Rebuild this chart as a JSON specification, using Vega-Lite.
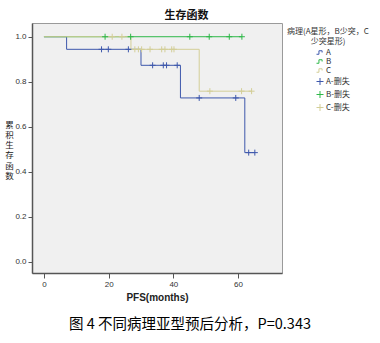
{
  "$schema": "https://vega.github.io/schema/vega-lite/v6.json",
  "width": 250,
  "height": 250,
  "autosize": {"type": "none"},
  "padding": {"left": 32, "top": 23, "right": 98, "bottom": 70},
  "background": "white",
  "title": {
    "text": "图 4 不同病理亚型预后分析，P=0.343",
    "orient": "bottom",
    "anchor": "middle",
    "frame": "group",
    "dx": 33,
    "offset": 16,
    "font": "Noto Sans CJK SC",
    "fontSize": 14.5,
    "fontWeight": "normal",
    "color": "#000000"
  },
  "datasets": {
    "steps": [
      {"group": "A", "months": 0, "survival": 1},
      {"group": "A", "months": 7, "survival": 0.944},
      {"group": "A", "months": 30, "survival": 0.873},
      {"group": "A", "months": 42.2, "survival": 0.728},
      {"group": "A", "months": 62.1, "survival": 0.485},
      {"group": "A", "months": 65.2, "survival": 0.485},
      {"group": "B", "months": 0, "survival": 1},
      {"group": "B", "months": 61.2, "survival": 1},
      {"group": "C", "months": 0, "survival": 1},
      {"group": "C", "months": 26.9, "survival": 0.944},
      {"group": "C", "months": 48, "survival": 0.758},
      {"group": "C", "months": 64.2, "survival": 0.758}
    ],
    "censored": [
      {"group": "A-删失", "months": 17.8, "survival": 0.944},
      {"group": "A-删失", "months": 19.9, "survival": 0.944},
      {"group": "A-删失", "months": 26.1, "survival": 0.944},
      {"group": "A-删失", "months": 33.6, "survival": 0.873},
      {"group": "A-删失", "months": 36.9, "survival": 0.873},
      {"group": "A-删失", "months": 37.9, "survival": 0.873},
      {"group": "A-删失", "months": 41.2, "survival": 0.873},
      {"group": "A-删失", "months": 48, "survival": 0.728},
      {"group": "A-删失", "months": 59.3, "survival": 0.728},
      {"group": "A-删失", "months": 63.3, "survival": 0.485},
      {"group": "A-删失", "months": 65.2, "survival": 0.485},
      {"group": "B-删失", "months": 18.9, "survival": 1},
      {"group": "B-删失", "months": 26.8, "survival": 1},
      {"group": "B-删失", "months": 45.1, "survival": 1},
      {"group": "B-删失", "months": 51.1, "survival": 1},
      {"group": "B-删失", "months": 57.3, "survival": 1},
      {"group": "B-删失", "months": 61.2, "survival": 1},
      {"group": "C-删失", "months": 21.1, "survival": 1},
      {"group": "C-删失", "months": 24.1, "survival": 1},
      {"group": "C-删失", "months": 28.1, "survival": 0.944},
      {"group": "C-删失", "months": 29.2, "survival": 0.944},
      {"group": "C-删失", "months": 30.2, "survival": 0.944},
      {"group": "C-删失", "months": 32.8, "survival": 0.944},
      {"group": "C-删失", "months": 36.4, "survival": 0.944},
      {"group": "C-删失", "months": 37.4, "survival": 0.944},
      {"group": "C-删失", "months": 39.5, "survival": 0.944},
      {"group": "C-删失", "months": 40.2, "survival": 0.944},
      {"group": "C-删失", "months": 51.3, "survival": 0.758},
      {"group": "C-删失", "months": 61.1, "survival": 0.758},
      {"group": "C-删失", "months": 64.2, "survival": 0.758}
    ]
  },
  "encoding": {
    "y": {
      "field": "survival",
      "type": "quantitative",
      "scale": {"domain": [-0.05, 1.061], "nice": false, "zero": false},
      "axis": {
        "values": [0, 0.2, 0.4, 0.6, 0.8, 1.0],
        "format": ".1f",
        "tickSize": 4,
        "labelPadding": 2,
        "title": ["累", "积", "生", "存", "函", "数"],
        "titleAngle": 0,
        "titleX": -23,
        "titleY": 101,
        "titleAlign": "center",
        "titleBaseline": "middle",
        "titleFont": "Noto Sans CJK SC",
        "titleFontSize": 8.5,
        "titleFontWeight": "normal",
        "titleLineHeight": 10.3
      }
    },
    "color": {
      "field": "group",
      "type": "nominal",
      "scale": {
        "domain": ["A", "B", "C", "A-删失", "B-删失", "C-删失"],
        "range": ["#3E58AC", "#2EB848", "#D3CE97", "#3E58AC", "#2EB848", "#D3CE97"]
      },
      "legend": {
        "orient": "none",
        "legendX": 255,
        "legendY": 5,
        "title": ["病理(A星形，B少突，C", "少突星形)"],
        "titleFont": "Noto Sans CJK SC",
        "titleFontSize": 8,
        "titleFontWeight": "normal",
        "titleColor": "#333333",
        "titleAlign": "center",
        "titleAnchor": "middle",
        "titleLineHeight": 9.5,
        "titlePadding": 3,
        "symbolOffset": 11,
        "labelFont": "Noto Sans CJK SC",
        "labelFontSize": 8,
        "labelColor": "#333333",
        "labelOffset": 2,
        "symbolSize": 49,
        "symbolStrokeWidth": 1,
        "symbolFillColor": "transparent",
        "rowPadding": 1,
        "padding": 0
      }
    }
  },
  "layer": [
    {
      "data": {"name": "steps"},
      "mark": {"type": "line", "interpolate": "step-after", "strokeWidth": 1},
      "encoding": {
        "x": {
          "field": "months",
          "type": "quantitative",
          "scale": {"domain": [-3.7, 73.6], "nice": false, "zero": false},
          "axis": {
            "orient": "bottom",
            "values": [0, 20, 40, 60],
            "tickSize": 5,
            "labelPadding": 2,
            "title": "PFS(months)",
            "titleFont": "Liberation Sans",
            "titleFontSize": 10,
            "titleFontWeight": "bold",
            "titleY": 24,
            "titleBaseline": "middle"
          }
        }
      }
    },
    {
      "data": {"name": "censored"},
      "mark": {"type": "point", "filled": false, "strokeWidth": 1, "size": 36, "opacity": 1},
      "encoding": {
        "x": {
          "field": "months",
          "type": "quantitative",
          "axis": {
            "orient": "top",
            "labels": false,
            "ticks": false,
            "domain": false,
            "title": "生存函数",
            "titleFont": "Noto Sans CJK SC",
            "titleFontSize": 11,
            "titleFontWeight": "bold",
            "titleColor": "#111111",
            "titleX": 154,
            "titleY": -8,
            "titleAlign": "center",
            "titleBaseline": "middle"
          }
        },
        "shape": {
          "field": "group",
          "type": "nominal",
          "scale": {
            "domain": ["A", "B", "C", "A-删失", "B-删失", "C-删失"],
            "range": [
              "M-1,0.5H-0.3V-0.5H0.6V0",
              "M-1,0.5H-0.3V-0.5H0.6V0",
              "M-1,0.5H-0.3V-0.5H0.6V0",
              "M-1,0H1M0,-1V1",
              "M-1,0H1M0,-1V1",
              "M-1,0H1M0,-1V1"
            ]
          }
        }
      }
    }
  ],
  "resolve": {"axis": {"x": "independent"}},
  "config": {
    "font": "Liberation Sans",
    "view": {"fill": "#F0F0F0", "stroke": "#9A9A9A", "strokeWidth": 1},
    "axis": {
      "grid": false,
      "labelFont": "Liberation Sans",
      "labelFontSize": 8,
      "labelColor": "#333333",
      "domainColor": "#555555",
      "domainWidth": 1.5,
      "tickColor": "#555555",
      "titleColor": "#222222"
    }
  }
}
